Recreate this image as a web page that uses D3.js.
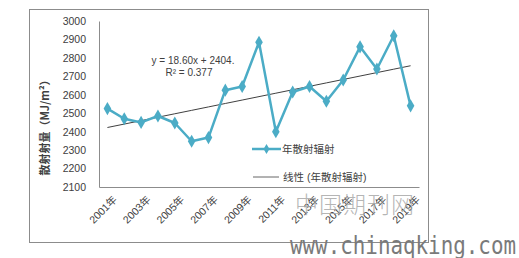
<!DOCTYPE html>
<html>
<head>
<meta charset="utf-8">
<script src="https://cdn.jsdelivr.net/npm/d3@7"></script>
<style>
  body { margin: 0; background: #fff; }
  text { font-family: "Liberation Sans", "Noto Sans CJK SC", sans-serif; }
</style>
</head>
<body>
<div id="chart"></div>
<script>
var years = ["2001年", "2002年", "2003年", "2004年", "2005年", "2006年", "2007年", "2008年", "2009年", "2010年",
  "2011年", "2012年", "2013年", "2014年", "2015年", "2016年", "2017年", "2018年", "2019年"];
var diffuse = [2525, 2470, 2450, 2485, 2447, 2348, 2368, 2625, 2645, 2885,
  2400, 2615, 2645, 2565, 2680, 2860, 2740, 2920, 2540];
var yTicks = [2100, 2200, 2300, 2400, 2500, 2600, 2700, 2800, 2900, 3000];
var trendSlope = 18.60, trendIntercept = 2404;

var width = 519, height = 258;
var margin = {top: 21, right: 100, bottom: 71, left: 99};
var svg = d3.select("#chart").append("svg")
  .attr("width", width).attr("height", height);

// outer frame
svg.append("rect")
  .attr("x", 29.5).attr("y", 9.5).attr("width", 399).attr("height", 233)
  .attr("fill", "none").attr("stroke", "#8c8c8c").attr("stroke-width", 1);

var x = d3.scaleBand().domain(years).range([margin.left, width - margin.right]);
var y = d3.scaleLinear().domain([2100, 3000]).range([height - margin.bottom, margin.top]);
var cx = function (d) { return x(d) + x.bandwidth() / 2; };

// y axis
var yAxis = svg.append("g")
  .attr("transform", "translate(" + margin.left + ",0)")
  .call(d3.axisLeft(y).tickValues(yTicks).tickSize(0).tickPadding(13).tickFormat(d3.format("d")));
yAxis.select(".domain").attr("stroke", "#8c8c8c");
yAxis.selectAll("text").attr("fill", "#404040").style("font-size", "10.5px");

// x axis
var xAxis = svg.append("g")
  .attr("transform", "translate(0," + (height - margin.bottom) + ")")
  .call(d3.axisBottom(x).tickSize(0).tickFormat(""));
xAxis.select(".domain").attr("stroke", "#8c8c8c");
svg.append("g").selectAll("text")
  .data(years.filter(function (d, i) { return i % 2 === 0; }))
  .enter().append("text")
  .attr("transform", function (d) { return "translate(" + (cx(d) + 5) + "," + (height - margin.bottom + 8) + ") rotate(-45)"; })
  .attr("text-anchor", "end")
  .attr("dy", "0.7em")
  .attr("fill", "#404040")
  .style("font-size", "10.5px")
  .text(function (d) { return d; });

// y title
svg.append("text")
  .attr("transform", "translate(49,125) rotate(-90)")
  .attr("text-anchor", "middle")
  .attr("fill", "#404040")
  .style("font-size", "11px")
  .style("font-weight", "bold")
  .style("font-family", "'Noto Sans CJK SC', sans-serif")
  .text("散射射量（MJ/m²）");

// trend line
var trend = years.map(function (d, i) { return trendIntercept + trendSlope * (i + 1); });
var line = d3.line()
  .x(function (d, i) { return cx(years[i]); })
  .y(function (d) { return y(d); });
svg.append("path")
  .datum(trend)
  .attr("d", line)
  .attr("fill", "none").attr("stroke", "#404040").attr("stroke-width", 1);

// series
var color = "#4bacc6";
svg.append("path")
  .datum(diffuse)
  .attr("d", line)
  .attr("fill", "none").attr("stroke", color).attr("stroke-width", 2.5)
  .attr("stroke-linejoin", "round");
var diamond = d3.symbol().type(d3.symbolDiamond).size(50);
svg.append("g").selectAll("path")
  .data(diffuse)
  .enter().append("path")
  .attr("d", diamond)
  .attr("transform", function (d, i) { return "translate(" + cx(years[i]) + "," + y(d) + ")"; })
  .attr("fill", color);

// equation
var eq = svg.append("g").attr("fill", "#404040").style("font-size", "10px");
eq.append("text").attr("x", 193).attr("y", 64).attr("text-anchor", "middle").text("y = 18.60x + 2404.");
eq.append("text").attr("x", 189).attr("y", 76).attr("text-anchor", "middle").text("R² = 0.377");

// legend
var lg = svg.append("g").style("font-size", "10.5px").attr("fill", "#404040")
  .style("font-family", "'Noto Sans CJK SC', sans-serif");
lg.append("line").attr("x1", 252).attr("x2", 281).attr("y1", 149).attr("y2", 149)
  .attr("stroke", color).attr("stroke-width", 2.5);
lg.append("path").attr("d", d3.symbol().type(d3.symbolDiamond).size(30))
  .attr("transform", "translate(266.5,149)").attr("fill", color);
lg.append("text").attr("x", 282).attr("y", 153).text("年散射辐射");
lg.append("line").attr("x1", 253).attr("x2", 279).attr("y1", 177).attr("y2", 177)
  .attr("stroke", "#404040").attr("stroke-width", 0.8);
lg.append("text").attr("x", 283).attr("y", 181).text("线性 (年散射辐射)");

// watermark
svg.append("text").attr("x", 295).attr("y", 213)
  .attr("fill", "#a8a8a8").attr("fill-opacity", 0.85)
  .style("font-size", "23px").style("font-weight", "300")
  .style("font-family", "'Noto Sans CJK SC', serif")
  .style("letter-spacing", "1px")
  .text("中国期刊网");
svg.append("text").attr("x", 290).attr("y", 254)
  .attr("fill", "#7a7a7a")
  .style("font-size", "24px").style("font-family", "'DejaVu Sans Mono', monospace")
  .attr("textLength", 226)
  .attr("lengthAdjust", "spacingAndGlyphs")
  .text("www.chinaqking.com");
</script>
</body>
</html>
